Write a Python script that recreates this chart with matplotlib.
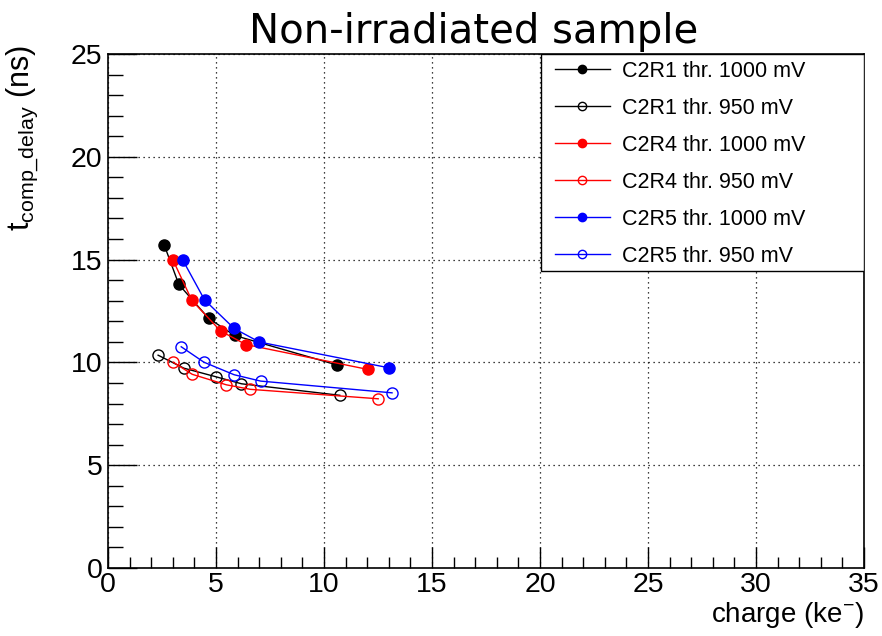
import matplotlib

matplotlib.use("Agg")
import matplotlib.pyplot as plt  # noqa: E402
from matplotlib.patches import Rectangle  # noqa: E402
from matplotlib.ticker import MultipleLocator  # noqa: E402

plt.rcParams["font.family"] = ["Liberation Sans", "DejaVu Sans"]
plt.rcParams["mathtext.fontset"] = "custom"
plt.rcParams["mathtext.rm"] = "Liberation Sans"
plt.rcParams["mathtext.it"] = "Liberation Sans"

# ── data ───────────────────────────────────────────────────────────────
c2r1_1000_charge = [2.61, 3.28, 4.66, 5.86, 10.62]
c2r1_1000_delay = [15.69, 13.79, 12.14, 11.31, 9.87]
c2r1_950_charge = [2.32, 3.51, 5.00, 6.18, 10.73]
c2r1_950_delay = [10.35, 9.72, 9.30, 8.96, 8.40]

c2r4_1000_charge = [3.00, 3.88, 5.21, 6.38, 12.02]
c2r4_1000_delay = [15.00, 13.02, 11.53, 10.87, 9.66]
c2r4_950_charge = [3.02, 3.90, 5.48, 6.59, 12.51]
c2r4_950_delay = [10.01, 9.42, 8.91, 8.69, 8.23]

c2r5_1000_charge = [3.45, 4.47, 5.84, 7.01, 12.99]
c2r5_1000_delay = [15.00, 13.04, 11.65, 10.99, 9.74]
c2r5_950_charge = [3.39, 4.44, 5.84, 7.07, 13.15]
c2r5_950_delay = [10.76, 10.01, 9.40, 9.09, 8.52]

series = [
    ("C2R1 thr. 1000 mV", c2r1_1000_charge, c2r1_1000_delay, "black", True),
    ("C2R1 thr. 950 mV", c2r1_950_charge, c2r1_950_delay, "black", False),
    ("C2R4 thr. 1000 mV", c2r4_1000_charge, c2r4_1000_delay, "#ff0000", True),
    ("C2R4 thr. 950 mV", c2r4_950_charge, c2r4_950_delay, "#ff0000", False),
    ("C2R5 thr. 1000 mV", c2r5_1000_charge, c2r5_1000_delay, "#0000ff", True),
    ("C2R5 thr. 950 mV", c2r5_950_charge, c2r5_950_delay, "#0000ff", False),
]

W, H = 882, 636
AX_L, AX_R, AX_T, AX_B = 108, 864, 54, 568

figure = plt.figure(figsize=(W / 100, H / 100), dpi=100, facecolor="white")
axis = figure.add_axes([AX_L / W, 1 - AX_B / H, (AX_R - AX_L) / W, (AX_B - AX_T) / H])


def ax_frac(px, py):
    """pixel position in the figure -> axes fraction"""
    return (px - AX_L) / (AX_R - AX_L), (AX_B - py) / (AX_B - AX_T)


for label, xs, ys, color, filled in series:
    axis.plot(
        xs,
        ys,
        color=color,
        lw=1.0,
        marker="o",
        markersize=8,
        markeredgewidth=1.0,
        markerfacecolor=color if filled else "none",
        markeredgecolor=color,
        label=label,
        zorder=3,
    )

axis.set_xlim(0, 35)
axis.set_ylim(0, 25)
axis.xaxis.set_major_locator(MultipleLocator(5))
axis.xaxis.set_minor_locator(MultipleLocator(1))
axis.yaxis.set_major_locator(MultipleLocator(5))
axis.yaxis.set_minor_locator(MultipleLocator(1))
axis.tick_params(axis="both", which="both", direction="in", top=False, right=False,
                 labelsize=20.5, width=1.0, color="black")
axis.tick_params(axis="y", which="major", length=21, pad=4)
axis.tick_params(axis="y", which="minor", length=11)
axis.tick_params(axis="x", which="major", length=15, pad=3)
axis.tick_params(axis="x", which="minor", length=8)
axis.grid(True, which="major", color="black", linestyle=(0, (1, 3)), linewidth=0.9)
for spine in axis.spines.values():
    spine.set_linewidth(1.2)

figure.text(474 / W, 1 - 43 / H, "Non-irradiated sample", fontsize=29,
            family="DejaVu Sans", ha="center", va="baseline")
axis.set_xlabel(r"charge (ke$^{\mathregular{-}}$)", fontsize=20, loc="right", labelpad=1)
axis.set_ylabel(r"t$_{\mathregular{comp\_delay}}$ (ns)", fontsize=22, loc="top")
axis.yaxis.set_label_coords(*ax_frac(40, 45))

# legend: frame drawn separately so the padding can match the reference
box_x0, box_y0 = ax_frac(541, 271)
axis.add_patch(Rectangle((box_x0, box_y0), 1 - box_x0, 1 - box_y0, transform=axis.transAxes,
                         facecolor="white", edgecolor="black", linewidth=1.0, zorder=4))
legend = axis.legend(
    loc="upper left",
    bbox_to_anchor=ax_frac(555, 61),
    borderaxespad=0.0,
    borderpad=0.0,
    fontsize=15.5,
    frameon=False,
    handlelength=2.55,
    handletextpad=0.55,
    labelspacing=0.74,
    markerscale=0.75,
)
legend.set_zorder(5)

figure.savefig("out.png", dpi=100, facecolor="white")
